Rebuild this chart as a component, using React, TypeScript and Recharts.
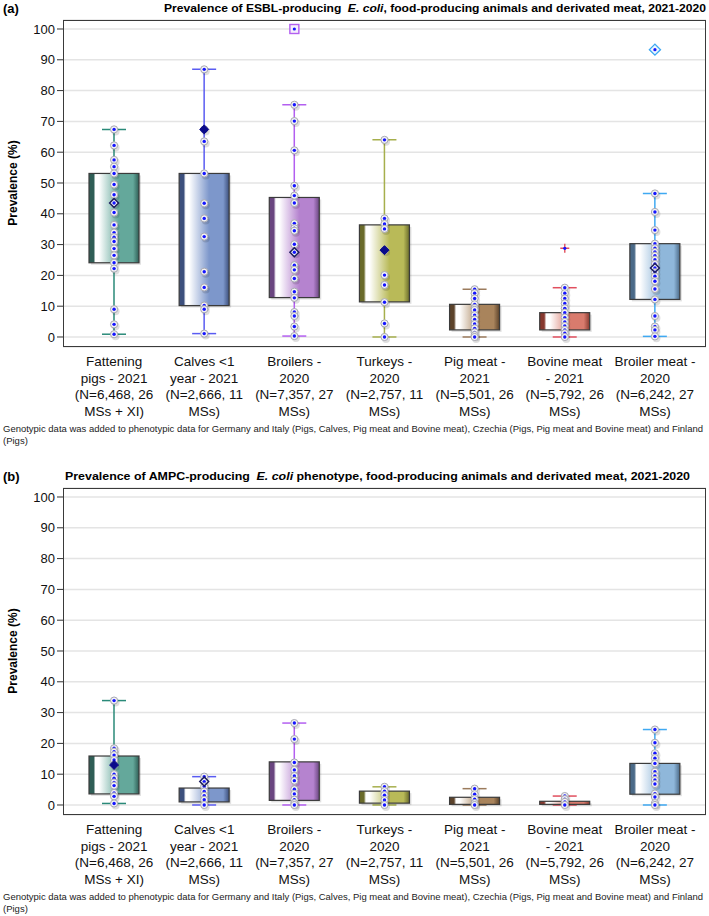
import React from "react";
import { ComposedChart, Bar, Scatter, XAxis, YAxis, CartesianGrid } from "recharts";

const CATEGORIES = [
  "Fattening pigs - 2021",
  "Calves <1 year - 2021",
  "Broilers - 2020",
  "Turkeys - 2020",
  "Pig meat - 2021",
  "Bovine meat - 2021",
  "Broiler meat - 2020",
];

const LABEL_LINES = [
  ["Fattening", "pigs - 2021", "(N=6,468, 26", "MSs + XI)"],
  ["Calves <1", "year - 2021", "(N=2,666, 11", "MSs)"],
  ["Broilers -", "2020", "(N=7,357, 27", "MSs)"],
  ["Turkeys -", "2020", "(N=2,757, 11", "MSs)"],
  ["Pig meat -", "2021", "(N=5,501, 26", "MSs)"],
  ["Bovine meat", "- 2021", "(N=5,792, 26", "MSs)"],
  ["Broiler meat -", "2020", "(N=6,242, 27", "MSs)"],
];

const Y_TICKS = [0, 10, 20, 30, 40, 50, 60, 70, 80, 90, 100];

// (a) ESBL
const A_MIN = [0.9, 1.1, 0.3, 0, 0, 0, 0.2];
const A_Q1 = [24.1, 10.2, 12.8, 11.4, 2.3, 2.3, 12.2];
const A_Q3 = [53.1, 53.1, 45.3, 36.4, 10.6, 7.9, 30.3];
const A_MAX = [67.4, 86.9, 75.4, 64.0, 15.5, 16.0, 46.6];
const A_MEAN = [43.5, 67.4, 27.5, 28.2, null, null, 22.4];
const A_MEAN_FILLED = [false, true, false, true, false, false, false];
const A_OUTLIERS = [[], [], [100], [], [], [28.8], [93.3]];
const A_POINTS = [
  [67.4, 62.2, 57.5, 55.3, 53.1, 49.5, 46.2, 43.5, 40.4, 36.4, 33.9, 32.4, 31.0, 28.7, 26.5, 24.1, 22.2, 9.0, 4.1, 0.9],
  [86.9, 67.4, 63.5, 53.1, 43.4, 38.5, 32.6, 21.2, 16.1, 10.2, 9.0, 1.1],
  [75.4, 70.1, 60.6, 49.1, 45.9, 43.5, 36.9, 35.3, 34.5, 30.1, 27.5, 23.3, 21.8, 19.0, 14.7, 12.7, 8.1, 6.8, 3.4, 0.3],
  [64.0, 38.5, 36.7, 35.1, 28.2, 20.1, 16.9, 11.3, 4.4, 0],
  [15.5, 14.2, 12.5, 10.6, 9.4, 8.8, 7.1, 5.7, 4.2, 2.8, 1.5, 0.6, 0],
  [16.0, 14.2, 12.5, 10.9, 9.3, 7.9, 6.3, 4.9, 3.6, 2.3, 1.2, 0],
  [46.6, 40.6, 34.7, 30.3, 28.8, 27.6, 26.4, 25.1, 23.7, 22.4, 21.0, 19.7, 18.1, 15.6, 12.2, 6.8, 3.4, 2.3, 0.2],
];

// (b) AMPC
const B_MIN = [0.5, 0, 0, 0, 0, 0, 0];
const B_Q1 = [3.6, 1.0, 1.5, 0.6, 0.2, 0.2, 3.5];
const B_Q3 = [15.9, 5.5, 14.0, 4.5, 2.5, 1.2, 13.5];
const B_MAX = [33.9, 9.2, 26.6, 5.9, 5.3, 2.9, 24.5];
const B_MEAN = [13.0, 7.6, null, null, null, null, null];
const B_MEAN_FILLED = [true, false, false, false, false, false, false];
const B_OUTLIERS = [[], [], [], [], [], [], []];
const B_POINTS = [
  [33.9, 18.4, 17.3, 16.2, 14.6, 13.0, 10.0, 8.7, 7.3, 6.3, 3.9, 2.8, 0.5],
  [9.2, 7.6, 6.0, 4.4, 3.0, 1.7, 0],
  [26.6, 21.4, 13.8, 11.4, 9.4, 7.9, 5.1, 3.6, 1.7, 0.6, 0],
  [5.9, 4.5, 3.2, 1.6, 0],
  [5.3, 3.5, 1.9, 0.6, 0],
  [2.9, 1.9, 1.0, 0],
  [24.5, 20.2, 16.8, 15.2, 13.5, 10.8, 9.4, 8.1, 6.8, 3.7, 2.6, 0.6, 0],
];

const BOX_COLORS = ["#64a89b", "#7d97cb", "#b583cf", "#b9ba58", "#a9845c", "#d97b6d", "#8fb7da"];
const EDGE_COLORS = ["#2f5e56", "#3c4f7c", "#6a4680", "#6a6b2b", "#5c432b", "#87392f", "#4b6a88"];
const WHISKER_COLORS = ["#2a8a79", "#5a5cf2", "#b35ff0", "#a6af4c", "#9b7b5d", "#e14f5e", "#3fa9f2"];
const OUTLIER_SHAPES = ["square", "square", "square", "square", "plus", "plus", "diamond"];

const FONT = "'Liberation Sans', Arial, sans-serif";
const FOOTNOTE =
  "Genotypic data was added to phenotypic data for Germany and Italy (Pigs, Calves, Pig meat and Bovine meat), Czechia (Pigs, Pig meat and Bovine meat) and Finland";

const makeBoxShape = (panel: string) => (props: any) => {
  const { x, y, width, height, payload } = props;
  const { lo, q1, q3, hi } = payload;
  const pix = (v: number) => y + (height * (hi - v)) / (hi - lo);
  const cx = x + width / 2;
  const i = CATEGORIES.indexOf(payload.name);
  const gid = `grad-${panel}-${i}`;
  const top = pix(q3);
  const bot = pix(q1);
  const wc = WHISKER_COLORS[i];
  return (
    <g>
      <defs>
        <linearGradient id={gid} x1="0" y1="0" x2="1" y2="0">
          <stop offset="0" stopColor={EDGE_COLORS[i]} />
          <stop offset="0.09" stopColor={EDGE_COLORS[i]} />
          <stop offset="0.13" stopColor="#ffffff" />
          <stop offset="0.2" stopColor="#ffffff" />
          <stop offset="0.6" stopColor={BOX_COLORS[i]} />
          <stop offset="0.88" stopColor={BOX_COLORS[i]} />
          <stop offset="1" stopColor={EDGE_COLORS[i]} />
        </linearGradient>
      </defs>
      <line x1={cx} x2={cx} y1={pix(hi)} y2={pix(lo)} stroke={wc} strokeWidth={1.5} />
      <line x1={cx - 12} x2={cx + 12} y1={pix(hi)} y2={pix(hi)} stroke={wc} strokeWidth={1.5} />
      <line x1={cx - 12} x2={cx + 12} y1={pix(lo)} y2={pix(lo)} stroke={wc} strokeWidth={1.5} />
      <rect x={x + 2} y={top + 2} width={width} height={bot - top} fill="#000" opacity={0.12} />
      <rect x={x} y={top} width={width} height={bot - top} fill={`url(#${gid})`} stroke="#3b3b3b" strokeWidth={1.2} />
    </g>
  );
};

const PointDot = (props: any) => {
  const { cx, cy } = props;
  if (cx == null || cy == null) return null;
  return (
    <g>
      <circle cx={cx + 1.5} cy={cy + 2} r={4} fill="#000" opacity={0.13} />
      <circle cx={cx} cy={cy} r={3.6} fill="#f2f2f4" stroke="#a8a8b2" strokeWidth={1} />
      <circle cx={cx} cy={cy} r={1.7} fill="#1515ff" />
    </g>
  );
};

const MeanMark = (props: any) => {
  const { cx, cy, payload } = props;
  if (cx == null || cy == null) return null;
  const d = 4.5;
  const path = `M${cx},${cy - d} L${cx + d},${cy} L${cx},${cy + d} L${cx - d},${cy} Z`;
  return payload.filled ? (
    <path d={path} fill="#0a0a8a" stroke="#0a0a8a" strokeWidth={1} />
  ) : (
    <path d={path} fill="none" stroke="#1c1c5e" strokeWidth={1.4} />
  );
};

const OutlierMark = (props: any) => {
  const { cx, cy, payload } = props;
  if (cx == null || cy == null) return null;
  const i = CATEGORIES.indexOf(payload.name);
  const c = WHISKER_COLORS[i];
  const kind = OUTLIER_SHAPES[i];
  let mark = null;
  if (kind === "square") {
    mark = <rect x={cx - 4.5} y={cy - 4.5} width={9} height={9} fill="#f6effc" stroke={c} strokeWidth={1.4} />;
  } else if (kind === "diamond") {
    mark = (
      <path d={`M${cx},${cy - 5.5} L${cx + 5.5},${cy} L${cx},${cy + 5.5} L${cx - 5.5},${cy} Z`} fill="#eef6fd" stroke={c} strokeWidth={1.4} />
    );
  } else {
    mark = (
      <g stroke={c} strokeWidth={1.4}>
        <line x1={cx - 4.5} x2={cx + 4.5} y1={cy} y2={cy} />
        <line x1={cx} x2={cx} y1={cy - 4.5} y2={cy + 4.5} />
      </g>
    );
  }
  return (
    <g>
      {mark}
      <circle cx={cx} cy={cy} r={1.6} fill="#1515ff" />
    </g>
  );
};

const renderTick = (props: any) => {
  const { x, y, payload } = props;
  const i = CATEGORIES.indexOf(payload.value);
  const lines = LABEL_LINES[i] || [];
  return (
    <text x={x} y={y} textAnchor="middle" fontSize={13.5} fill="#111" fontFamily={FONT}>
      {lines.map((l, k) => (
        <tspan key={k} x={x} dy={k === 0 ? 19 : 16.5}>
          {l}
        </tspan>
      ))}
    </text>
  );
};

type PanelProps = {
  id: string;
  tag: string;
  titleStart: number;
  titleWidth: number;
  titleBefore: string;
  titleAfter: string;
  mins: number[];
  q1s: number[];
  q3s: number[];
  maxs: number[];
  means: (number | null)[];
  meanFilled: boolean[];
  outliers: number[][];
  points: number[][];
};

function Panel(p: PanelProps) {
  const table = CATEGORIES.map((name, i) => ({ name, lo: p.mins[i], q1: p.q1s[i], q3: p.q3s[i], hi: p.maxs[i] }));
  const pointData = CATEGORIES.flatMap((name, i) => p.points[i].map((v) => ({ name, v })));
  const meanData = CATEGORIES.map((name, i) => ({ name, v: p.means[i], filled: p.meanFilled[i] })).filter((d) => d.v != null);
  const outlierData = CATEGORIES.flatMap((name, i) => p.outliers[i].map((v) => ({ name, v })));

  return (
    <div style={{ position: "relative", width: 709, height: 468 }}>
      <svg width={709} height={20} style={{ position: "absolute", left: 0, top: 0 }}>
        <text x={3} y={13} fontSize={13} fontWeight="bold" fontFamily={FONT} fill="#000">
          {p.tag}
        </text>
        <text
          x={p.titleStart}
          y={12}
          fontSize={11.5}
          fontWeight="bold"
          fontFamily={FONT}
          fill="#000"
          textLength={p.titleWidth}
          lengthAdjust="spacingAndGlyphs"
        >
          {p.titleBefore}
          <tspan fontStyle="italic" dx={3}>E. coli</tspan>
          {p.titleAfter}
        </text>
      </svg>
      <div style={{ position: "absolute", left: 0, top: 0 }}>
        <ComposedChart width={709} height={427} data={table} margin={{ top: 20, right: 3, bottom: 0, left: 0 }}>
          <CartesianGrid vertical={false} stroke="#e4e4e4" strokeWidth={1.5} />
          <XAxis
            dataKey="name"
            type="category"
            allowDuplicatedCategory={false}
            padding={{ left: 6, right: 6 }}
            axisLine={false}
            tickLine={false}
            tickSize={0}
            tickMargin={0}
            height={80}
            interval={0}
            tick={renderTick}
          />
          <YAxis
            type="number"
            domain={[-3.25, 102.92]}
            allowDataOverflow
            ticks={Y_TICKS}
            interval={0}
            width={63}
            axisLine={false}
            tickLine={{ stroke: "#333" }}
            tickSize={6}
            tickMargin={2}
            tick={{ fill: "#111", fontSize: 13, fontFamily: FONT }}
          />
          <Bar dataKey={(d: any) => [d.lo, d.hi]} barSize={50} shape={makeBoxShape(p.id)} isAnimationActive={false} />
          <Scatter data={pointData} dataKey="v" shape={PointDot} isAnimationActive={false} />
          <Scatter data={meanData} dataKey="v" shape={MeanMark} isAnimationActive={false} />
          <Scatter data={outlierData} dataKey="v" shape={OutlierMark} isAnimationActive={false} />
        </ComposedChart>
      </div>
      <div
        style={{
          position: "absolute",
          left: 63,
          top: 20,
          width: 643,
          height: 327,
          border: "1.5px solid #3a3a3a",
          boxSizing: "border-box",
          pointerEvents: "none",
        }}
      />
      <svg width={709} height={468} style={{ position: "absolute", left: 0, top: 0, pointerEvents: "none" }}>
        <text
          transform="translate(17,183) rotate(-90)"
          textAnchor="middle"
          fontSize={12}
          fontWeight="bold"
          fontFamily={FONT}
          fill="#000"
        >
          Prevalence (%)
        </text>
        <text x={3} y={432} fontSize={9.5} fontFamily={FONT} fill="#222" textLength={700} lengthAdjust="spacingAndGlyphs">
          {FOOTNOTE}
        </text>
        <text x={3} y={444} fontSize={9.5} fontFamily={FONT} fill="#222">
          (Pigs)
        </text>
      </svg>
    </div>
  );
}

export default function App() {
  return (
    <div style={{ position: "absolute", left: 0, top: 0, width: 709, height: 916, background: "#fff", fontFamily: FONT }}>
      <Panel
        id="a"
        tag="(a)"
        titleStart={164}
        titleWidth={542}
        titleBefore="Prevalence of ESBL-producing "
        titleAfter=", food-producing animals and derivated meat, 2021-2020"
        mins={A_MIN}
        q1s={A_Q1}
        q3s={A_Q3}
        maxs={A_MAX}
        means={A_MEAN}
        meanFilled={A_MEAN_FILLED}
        outliers={A_OUTLIERS}
        points={A_POINTS}
      />
      <Panel
        id="b"
        tag="(b)"
        titleStart={65}
        titleWidth={625}
        titleBefore="Prevalence of AMPC-producing "
        titleAfter=" phenotype, food-producing animals and derivated meat, 2021-2020"
        mins={B_MIN}
        q1s={B_Q1}
        q3s={B_Q3}
        maxs={B_MAX}
        means={B_MEAN}
        meanFilled={B_MEAN_FILLED}
        outliers={B_OUTLIERS}
        points={B_POINTS}
      />
    </div>
  );
}
